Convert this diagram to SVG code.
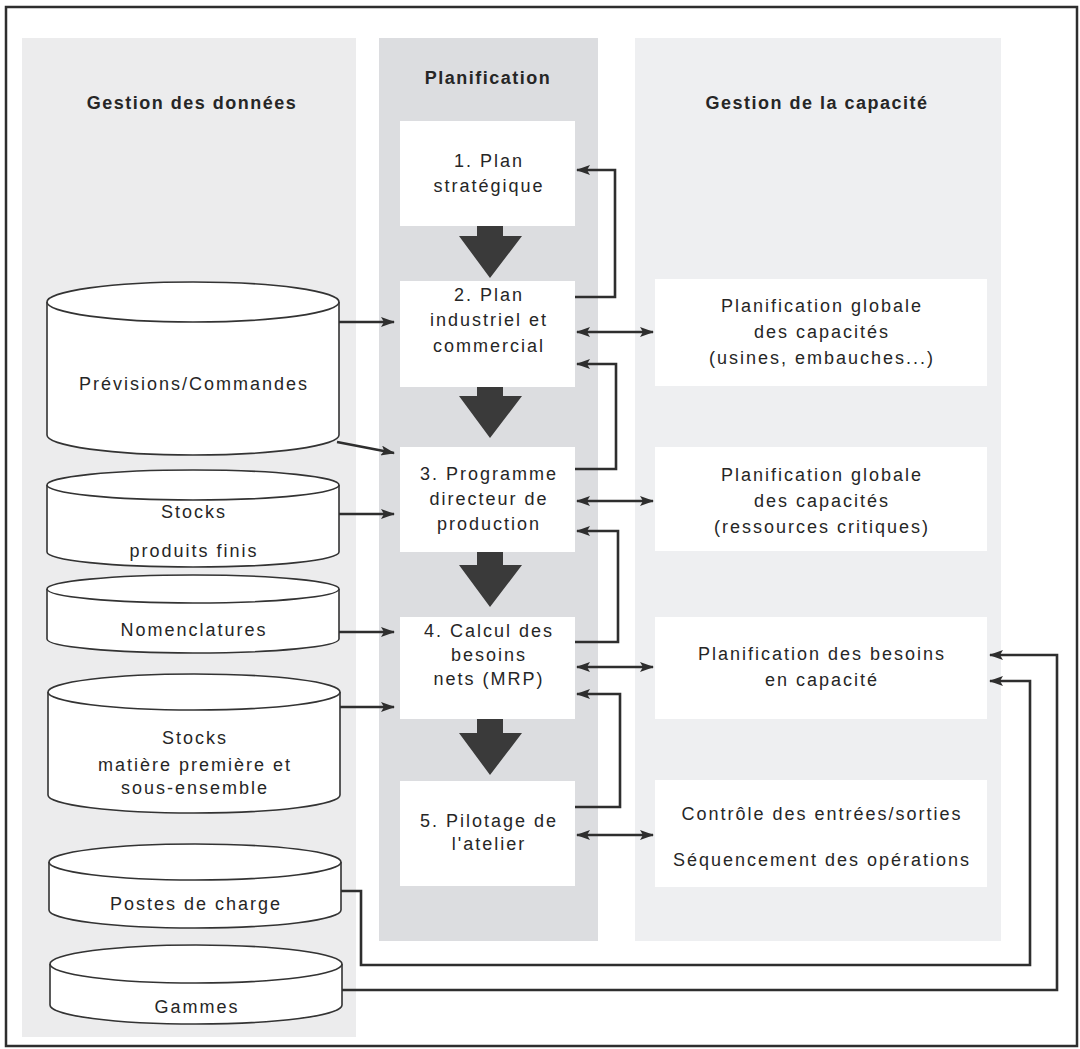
<svg xmlns="http://www.w3.org/2000/svg" width="1080" height="1049" viewBox="0 0 1080 1049">
<defs>
<style>
.t{font-family:"Liberation Sans",Arial,sans-serif;font-size:18px;letter-spacing:2px;fill:#262626;text-anchor:middle}
.h{font-family:"Liberation Sans",Arial,sans-serif;font-size:18px;font-weight:bold;letter-spacing:1.5px;fill:#262626;text-anchor:middle}
.box{fill:#ffffff}
.cyl{fill:#ffffff;stroke:#333;stroke-width:1.6}
.ln{fill:none;stroke:#2e2e2e;stroke-width:2.6}
.big{fill:#3a3a3a}
</style>
<marker id="ah" viewBox="0 0 14 10" refX="13" refY="5" markerWidth="14" markerHeight="10" markerUnits="userSpaceOnUse" orient="auto-start-reverse">
<path d="M0,0 L14,5 L0,10 L3,5 Z" fill="#2e2e2e"/>
</marker>
</defs>
<rect x="0" y="0" width="1080" height="1049" fill="#ffffff"/>
<rect x="6" y="7" width="1071" height="1039" fill="none" stroke="#2e2e2e" stroke-width="2.5"/>

<g id="panels">
<rect x="22" y="38" width="334" height="999" fill="#ececed"/>
<rect x="379" y="38" width="219" height="903" fill="#dcdde0"/>
<rect x="635" y="38" width="366" height="903" fill="#eeeff1"/>
</g>

<g id="headers">
<text class="h" x="192" y="109">Gestion des données</text>
<text class="h" x="488" y="84">Planification</text>
<text class="h" x="817" y="109">Gestion de la capacité</text>
</g>

<g id="plan1"><rect class="box" x="400" y="121" width="175" height="105"/>
<text class="t" x="489" y="167">1. Plan</text><text class="t" x="489" y="192">stratégique</text></g>
<g id="plan2"><rect class="box" x="400" y="281" width="175" height="106"/>
<text class="t" x="489" y="301">2. Plan</text><text class="t" x="489" y="326">industriel et</text><text class="t" x="489" y="352">commercial</text></g>
<g id="plan3"><rect class="box" x="400" y="447" width="175" height="105"/>
<text class="t" x="489" y="480">3. Programme</text><text class="t" x="489" y="505">directeur de</text><text class="t" x="489" y="530">production</text></g>
<g id="plan4"><rect class="box" x="400" y="617" width="175" height="102"/>
<text class="t" x="489" y="637">4. Calcul des</text><text class="t" x="489" y="661">besoins</text><text class="t" x="489" y="685">nets (MRP)</text></g>
<g id="plan5"><rect class="box" x="400" y="781" width="175" height="105"/>
<text class="t" x="489" y="827">5. Pilotage de</text><text class="t" x="489" y="850">l'atelier</text></g>

<g id="cap1"><rect class="box" x="655" y="279" width="332" height="107"/>
<text class="t" x="822" y="312">Planification globale</text><text class="t" x="822" y="338">des capacités</text><text class="t" x="822" y="364">(usines, embauches...)</text></g>
<g id="cap2"><rect class="box" x="655" y="447" width="332" height="104"/>
<text class="t" x="822" y="481">Planification globale</text><text class="t" x="822" y="507">des capacités</text><text class="t" x="822" y="533">(ressources critiques)</text></g>
<g id="cap3"><rect class="box" x="655" y="617" width="332" height="102"/>
<text class="t" x="822" y="660">Planification des besoins</text><text class="t" x="822" y="686">en capacité</text></g>
<g id="cap4"><rect class="box" x="655" y="780" width="332" height="107"/>
<text class="t" x="822" y="820">Contrôle des entrées/sorties</text><text class="t" x="822" y="866">Séquencement des opérations</text></g>

<g id="db1"><path class="cyl" d="M47,302 L47,435 A146,20 0 0 0 339,435 L339,302"/><ellipse class="cyl" cx="193" cy="302" rx="146" ry="20"/>
<text class="t" x="194" y="390">Prévisions/Commandes</text></g>
<g id="db2"><path class="cyl" d="M47,485 L47,552 A146,15 0 0 0 339,552 L339,485"/><ellipse class="cyl" cx="193" cy="485" rx="146" ry="15"/>
<text class="t" x="194" y="518">Stocks</text><text class="t" x="194" y="557">produits finis</text></g>
<g id="db3"><path class="cyl" d="M47,589 L47,639 A146,14 0 0 0 339,639 L339,589"/><ellipse class="cyl" cx="193" cy="589" rx="146" ry="14"/>
<text class="t" x="194" y="636">Nomenclatures</text></g>
<g id="db4"><path class="cyl" d="M48,692 L48,795 A146,18 0 0 0 340,795 L340,692"/><ellipse class="cyl" cx="194" cy="692" rx="146" ry="18"/>
<text class="t" x="195" y="744">Stocks</text><text class="t" x="195" y="771">matière première et</text><text class="t" x="195" y="794">sous-ensemble</text></g>
<g id="db5"><path class="cyl" d="M49,862 L49,910 A146,18 0 0 0 341,910 L341,862"/><ellipse class="cyl" cx="195" cy="862" rx="146" ry="18"/>
<text class="t" x="196" y="910">Postes de charge</text></g>
<g id="db6"><path class="cyl" d="M50,964 L50,1005 A146,19 0 0 0 342,1005 L342,964"/><ellipse class="cyl" cx="196" cy="964" rx="146" ry="19"/>
<text class="t" x="197" y="1013">Gammes</text></g>

<g id="connectors">
<path class="big" d="M477,226 H503 V236 H522 L490,278 L459,236 H477 Z"/>
<path class="big" d="M477,387 H503 V396 H522 L490,438 L459,396 H477 Z"/>
<path class="big" d="M477,552 H503 V565 H522 L490,607 L459,565 H477 Z"/>
<path class="big" d="M477,719 H503 V733 H522 L490,775 L459,733 H477 Z"/>

<path class="ln" d="M339,322 H394" marker-end="url(#ah)"/>
<path class="ln" d="M337,442 L394,453" marker-end="url(#ah)"/>
<path class="ln" d="M339,514 H394" marker-end="url(#ah)"/>
<path class="ln" d="M339,632 H394" marker-end="url(#ah)"/>
<path class="ln" d="M340,707 H394" marker-end="url(#ah)"/>

<path class="ln" d="M575,297 H615 V170 H577" marker-end="url(#ah)"/>
<path class="ln" d="M575,469 H616 V364 H577" marker-end="url(#ah)"/>
<path class="ln" d="M575,642 H618 V531 H577" marker-end="url(#ah)"/>
<path class="ln" d="M575,807 H620 V694 H577" marker-end="url(#ah)"/>

<path class="ln" d="M577,332 H653" marker-start="url(#ah)" marker-end="url(#ah)"/>
<path class="ln" d="M577,501 H653" marker-start="url(#ah)" marker-end="url(#ah)"/>
<path class="ln" d="M577,667 H653" marker-start="url(#ah)" marker-end="url(#ah)"/>
<path class="ln" d="M577,835 H653" marker-start="url(#ah)" marker-end="url(#ah)"/>

<path class="ln" d="M341,891 H361 V965 H1030 V681 H990" marker-end="url(#ah)"/>
<path class="ln" d="M342,990 H1057 V655 H990" marker-end="url(#ah)"/>
</g>
</svg>
